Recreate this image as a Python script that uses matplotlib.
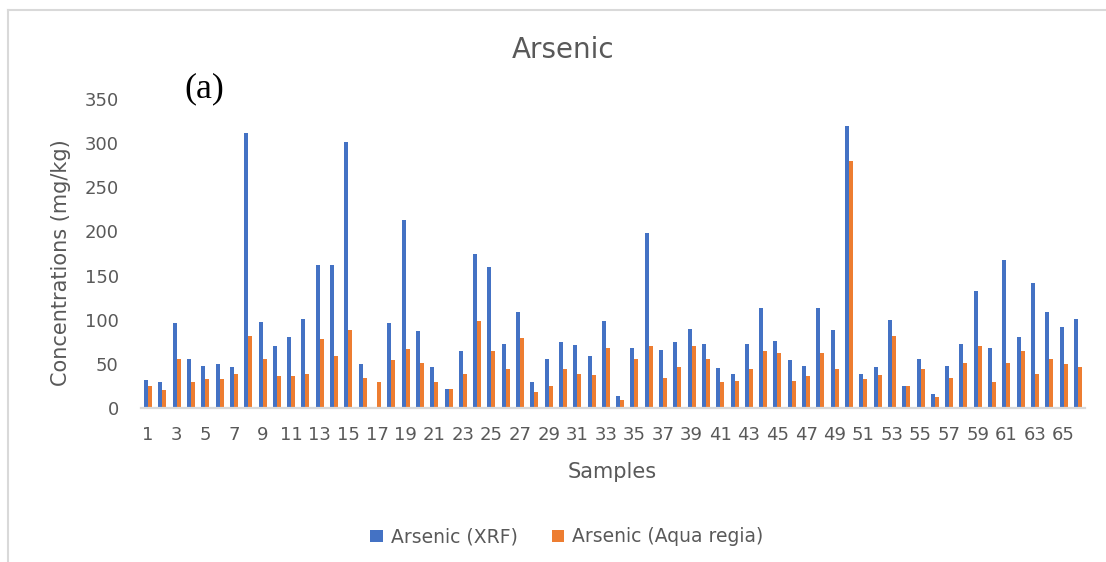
import matplotlib
matplotlib.use("Agg")
import matplotlib.pyplot as plt
from matplotlib.patches import Patch
from matplotlib.lines import Line2D
import numpy as np

samples = list(range(1, 67))
xrf = [32, 29, 96, 56, 48, 50, 46, 311, 97, 70, 80, 101, 162, 162, 301, 50, 0,
       96, 213, 87, 46, 22, 64, 175, 160, 72, 109, 30, 56, 75, 71, 59, 98, 14,
       68, 198, 66, 75, 90, 72, 45, 38, 72, 113, 76, 54, 48, 113, 88, 319,
       39, 47, 100, 25, 56, 16, 48, 73, 133, 68, 168, 80, 142, 109, 92, 101]
aqua = [25, 20, 55, 30, 33, 33, 39, 81, 55, 36, 36, 39, 78, 59, 88, 34, 29,
        54, 67, 51, 30, 22, 39, 98, 64, 44, 79, 18, 25, 44, 39, 37, 68, 9,
        56, 70, 34, 47, 70, 56, 29, 31, 44, 65, 62, 31, 36, 62, 44, 280,
        33, 37, 81, 25, 44, 13, 34, 51, 70, 30, 51, 64, 38, 56, 50, 47]
ytick_vals = [0, 50, 100, 150, 200, 250, 300, 350]
xtick_labels = [str(s) for s in samples if s % 2 == 1]

BLUE = "#4472C4"
ORANGE = "#ED7D31"
TXT = "#595959"

W, H = 1106, 562
fig = plt.figure(figsize=(W / 100, H / 100), dpi=100)
ax = fig.add_axes([141 / W, 1 - 408 / H, (1085 - 141) / W, (408 - 99) / H])

x = np.array(samples, dtype=float)
bw = 0.28
ax.bar(x - bw / 2, xrf, width=bw, color=BLUE, linewidth=0)
ax.bar(x + bw / 2, aqua, width=bw, color=ORANGE, linewidth=0)

ax.set_xlim(0.5, 66.5)
ax.set_ylim(0, 350)
ax.set_yticks(ytick_vals)
ax.set_yticklabels([str(v) for v in ytick_vals])
odd = [s for s in samples if s % 2 == 1]
ax.set_xticks(odd)
ax.set_xticklabels(xtick_labels)
ax.tick_params(axis="both", length=0, labelsize=13, labelcolor=TXT)
ax.tick_params(axis="y", pad=16)
ax.tick_params(axis="x", pad=13)
for s in ["top", "right", "left"]:
    ax.spines[s].set_visible(False)
ax.spines["bottom"].set_color("#D9D9D9")
ax.spines["bottom"].set_linewidth(1.6)

fig.text(563 / W, 1 - 50 / H, "Arsenic", ha="center", va="center",
         fontsize=20, color=TXT)
fig.text(204 / W, 1 - 89 / H, "(a)", ha="center", va="center",
         fontsize=26, color="black", family="Liberation Serif")
fig.text(612 / W, 1 - 472 / H, "Samples", ha="center", va="center",
         fontsize=15, color=TXT)
fig.text(61 / W, 1 - 263 / H, "Concentrations (mg/kg)", ha="center",
         va="center", rotation=90, fontsize=15, color=TXT)

handles = [Patch(facecolor=BLUE, edgecolor="none", label="Arsenic (XRF)"),
           Patch(facecolor=ORANGE, edgecolor="none", label="Arsenic (Aqua regia)")]
leg = fig.legend(handles=handles, loc="center", ncol=2,
                 bbox_to_anchor=(567 / W, 1 - 537 / H), frameon=False,
                 fontsize=13.5, handlelength=0.65, handleheight=0.65,
                 handletextpad=0.45, columnspacing=1.8)
for t in leg.get_texts():
    t.set_color(TXT)

# chart area border (top and left visible)
fig.add_artist(Line2D([8 / W, 1], [1 - 10 / H, 1 - 10 / H],
                      transform=fig.transFigure, color="#D9D9D9", lw=1.5))
fig.add_artist(Line2D([8 / W, 8 / W], [0, 1 - 10 / H],
                      transform=fig.transFigure, color="#D9D9D9", lw=1.5))

fig.savefig("out.png", dpi=100, facecolor="white")
